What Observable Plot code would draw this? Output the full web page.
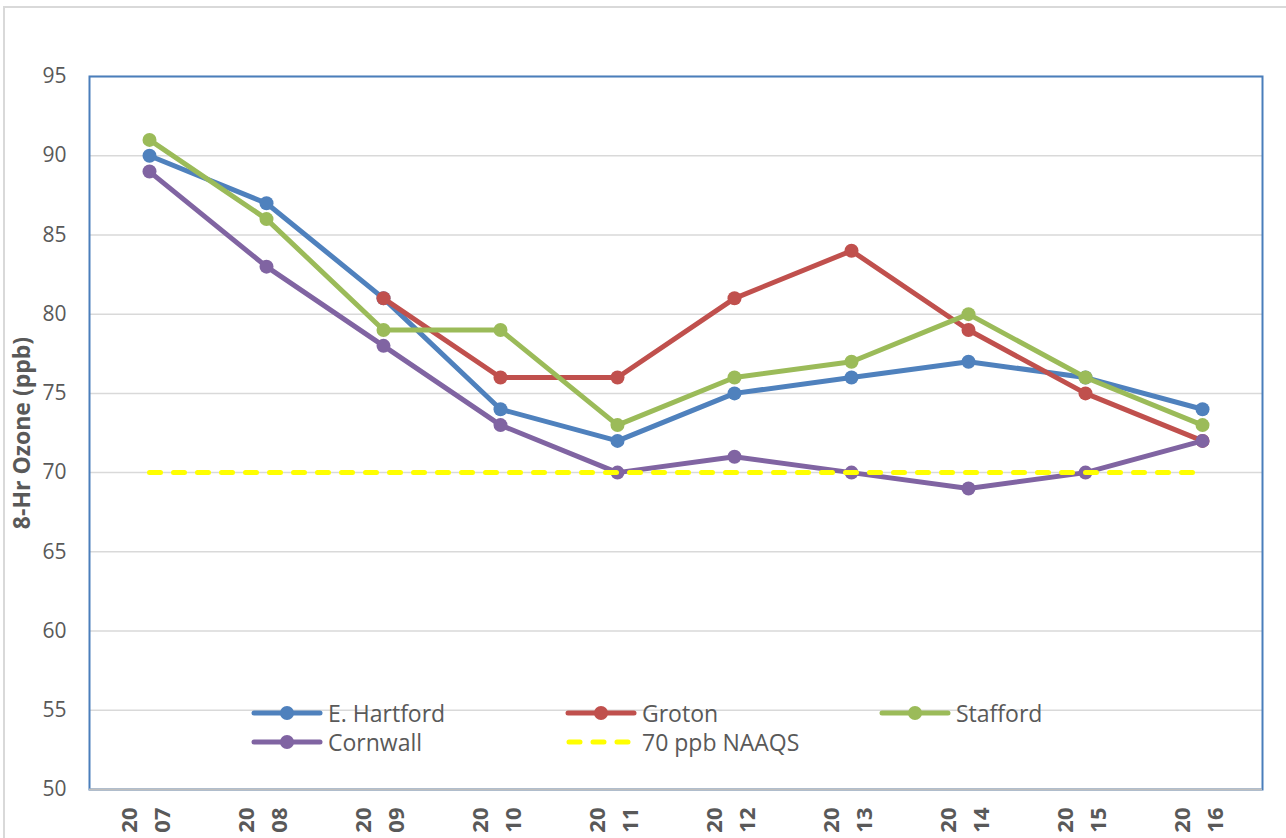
<!DOCTYPE html>
<html><head><meta charset="utf-8">
<script src="https://cdn.jsdelivr.net/npm/d3@7"></script>
<script src="https://cdn.jsdelivr.net/npm/@observablehq/plot@0.6"></script>
<style>
body{margin:0;background:#fff;font-family:"Open Sans",sans-serif;overflow:hidden}
#wrap{position:relative;width:1286px;height:838px;overflow:hidden}
#border{position:absolute;left:3px;top:6px;width:1300px;height:850px;border:2px solid #d9d9d9}
#chart{position:absolute;left:0;top:0}
.leg{position:absolute;display:flex;align-items:center;font-size:23px;color:#595959;white-space:nowrap;line-height:1}
.leg svg{margin-right:4px}
g[aria-label="x-axis tick label"] text{font-weight:bold;font-size:22px}
</style></head><body>
<div id="wrap"><div id="border"></div><div id="chart"></div><div id="legend"></div></div>
<script>
const years = [2007, 2008, 2009, 2010, 2011, 2012, 2013, 2014, 2015, 2016];
const eHartford = [90, 87, 81, 74, 72, 75, 76, 77, 76, 74];
const groton = [null, null, 81, 76, 76, 81, 84, 79, 75, 72];
const stafford = [91, 86, 79, 79, 73, 76, 77, 80, 76, 73];
const cornwall = [89, 83, 78, 73, 70, 71, 70, 69, 70, 72];
const naaqs = [70, 70, 70, 70, 70, 70, 70, 70, 70, 70];
const seriesNames = ["E. Hartford", "Groton", "Stafford", "Cornwall"];
const seriesValues = [eHartford, groton, stafford, cornwall];
const seriesColors = ["#4F81BD", "#C0504D", "#9BBB59", "#8064A2"];
const naaqsName = "70 ppb NAAQS";
const naaqsColor = "#FFFF00";
const yTicks = [50, 55, 60, 65, 70, 75, 80, 85, 90, 95];
const yTitle = "8-Hr Ozone (ppb)";

const seriesMarks = seriesNames.flatMap((name, i) => {
  const rows = years.map((year, j) => ({year, value: seriesValues[i][j], name}))
    .filter(d => d.value != null);
  return [
    Plot.line(rows, {x: "year", y: "value", stroke: seriesColors[i], strokeWidth: 5, strokeLinejoin: "round", strokeLinecap: "round"}),
    Plot.dot(rows, {x: "year", y: "value", fill: seriesColors[i], r: 7, stroke: "none"})
  ];
});
const naaqsRows = years.map((year, j) => ({year, value: naaqs[j]}));

const chart = Plot.plot({
  width: 1286,
  height: 838,
  marginLeft: 89,
  marginRight: 24,
  marginTop: 76,
  marginBottom: 49,
  style: {fontFamily: '"Open Sans", sans-serif', background: "transparent"},
  x: {type: "point", domain: years, padding: 0.5},
  y: {domain: [50, 95]},
  marks: [
    Plot.gridY(yTicks, {stroke: "#d9d9d9", strokeOpacity: 1, strokeWidth: 1.5}),
    Plot.frame({stroke: "#4A7EBB", strokeWidth: 2}),
    Plot.ruleY([50], {stroke: "#BFBFBF", strokeWidth: 2}),
    Plot.axisY({ticks: yTicks, tickSize: 0, tickPadding: 23, fontSize: 21, color: "#595959", label: null}),
    Plot.axisX({tickSize: 0, tickRotate: -90, tickPadding: 18, dx: -7, tickFormat: d => "20\n" + String(d).slice(2), fontSize: 22, fontWeight: "bold", color: "#595959", lineHeight: 1.5, label: null}),
    ...seriesMarks,
    Plot.line(naaqsRows, {x: "year", y: "value", stroke: naaqsColor, strokeWidth: 5, strokeDasharray: "11,13", strokeLinecap: "round"}),
    Plot.text([yTitle], {frameAnchor: "left", dx: -67, rotate: -90, textAnchor: "middle", lineAnchor: "middle", fontSize: 23, fontWeight: "bold", fill: "#595959"})
  ]
});
document.getElementById("chart").append(chart);

// Legend
const legendItems = seriesNames.map((name, i) => ({name, color: seriesColors[i], dashed: false}));
legendItems.push({name: naaqsName, color: naaqsColor, dashed: true});
const colLeft = [250, 564, 878];
const rowTop = [713, 742];
const legend = d3.select("#legend");
legendItems.forEach((item, k) => {
  const col = k < 3 ? k : k - 3;
  const row = k < 3 ? 0 : 1;
  const div = legend.append("div").attr("class", "leg")
    .style("left", colLeft[col] + "px").style("top", (rowTop[row] - 12) + "px").style("height", "24px");
  const svg = div.append("svg").attr("width", 74).attr("height", 20);
  if (item.dashed) {
    svg.append("line").attr("x1", 5).attr("x2", 70).attr("y1", 10).attr("y2", 10)
      .attr("stroke", item.color).attr("stroke-width", 5).attr("stroke-dasharray", "11,13").attr("stroke-linecap", "round");
  } else {
    svg.append("line").attr("x1", 4).attr("x2", 70).attr("y1", 10).attr("y2", 10)
      .attr("stroke", item.color).attr("stroke-width", 5).attr("stroke-linecap", "round");
    svg.append("circle").attr("cx", 37).attr("cy", 10).attr("r", 7).attr("fill", item.color);
  }
  div.append("span").text(item.name);
});
</script>
</body></html>
